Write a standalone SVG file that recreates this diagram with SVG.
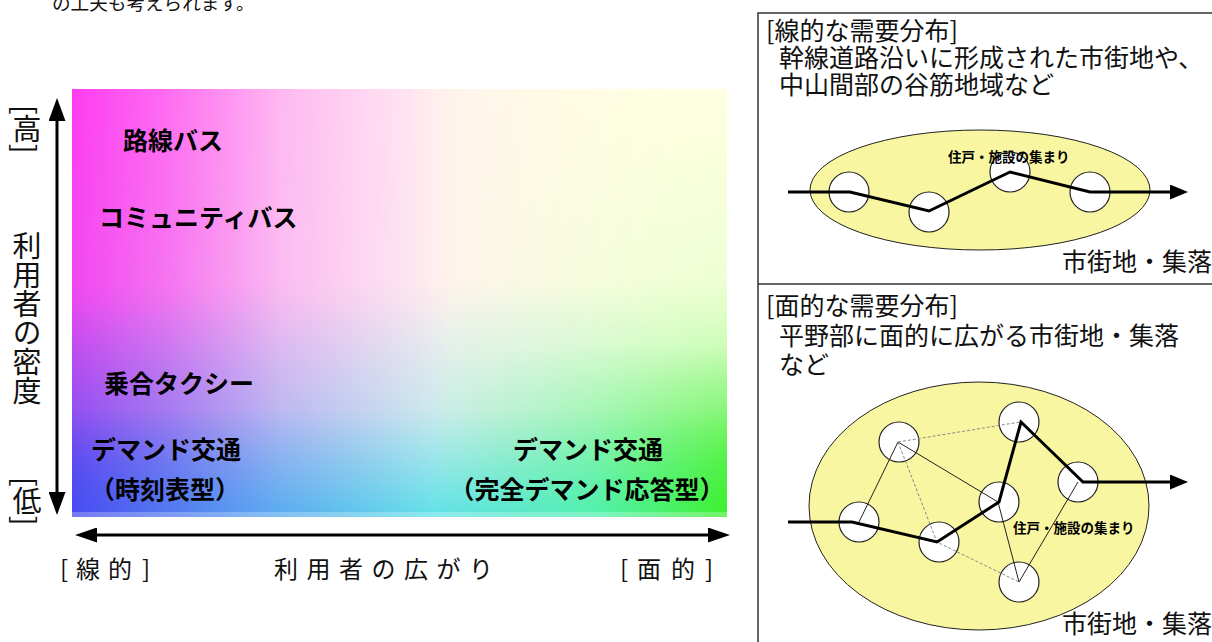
<svg xmlns="http://www.w3.org/2000/svg" width="1212" height="642" viewBox="0 0 1212 642">
<style>
.jp{font-family:"Noto Sans CJK JP","Noto Sans CJK SC",sans-serif;fill:#111}
.lab{font-family:"Noto Sans CJK JP","Noto Sans CJK SC",sans-serif;font-weight:700;font-size:25px;fill:#000}
.ax{font-size:24px}
.vt{font-size:29px;writing-mode:vertical-rl}
.pt{font-size:25px}
.sm{font-family:"Noto Sans CJK JP","Noto Sans CJK SC",sans-serif;font-weight:700;font-size:13.5px;fill:#000}
.area{fill:#f8f6a0;stroke:#222;stroke-width:1}
.house{fill:#fff;stroke:#222;stroke-width:1.2}
.thin{fill:none;stroke:#222;stroke-width:1}
.dash{fill:none;stroke:#888;stroke-width:1;stroke-dasharray:3 2}
.route{fill:none;stroke:#000;stroke-width:3}
.axis{fill:none;stroke:#000;stroke-width:3}
</style>
<defs>
<linearGradient id="gBase" x1="0" y1="0" x2="1" y2="0">
<stop offset="0" stop-color="#ffdcf2"/><stop offset="0.45" stop-color="#fff0f2"/><stop offset="1" stop-color="#fffee0"/>
</linearGradient>
<linearGradient id="gLeft" x1="0" y1="0" x2="0" y2="1">
<stop offset="0" stop-color="#ff3cf0"/><stop offset="0.5" stop-color="#f048f0"/><stop offset="0.75" stop-color="#b850f0"/><stop offset="1" stop-color="#4848f0"/>
</linearGradient>
<linearGradient id="gLeftM" x1="0" y1="0" x2="1" y2="0">
<stop offset="0" stop-color="#fff"/><stop offset="0.14" stop-color="#b8b8b8"/><stop offset="0.32" stop-color="#484848"/><stop offset="0.58" stop-color="#000"/>
</linearGradient>
<linearGradient id="gBot" x1="0" y1="0" x2="1" y2="0">
<stop offset="0" stop-color="#4a4cf0"/><stop offset="0.3" stop-color="#58a8f0"/><stop offset="0.55" stop-color="#60e0e8"/><stop offset="0.8" stop-color="#50f0b0"/><stop offset="1" stop-color="#40f030"/>
</linearGradient>
<linearGradient id="gBotM" x1="0" y1="0" x2="0" y2="1">
<stop offset="0.45" stop-color="#000"/><stop offset="0.75" stop-color="#505050"/><stop offset="1" stop-color="#fff"/>
</linearGradient>
<linearGradient id="gRight" x1="0" y1="0" x2="0" y2="1">
<stop offset="0" stop-color="#ffffe0"/><stop offset="0.6" stop-color="#e8ffd0"/><stop offset="1" stop-color="#40f040"/>
</linearGradient>
<linearGradient id="gRightM" x1="0" y1="0" x2="1" y2="0">
<stop offset="0.55" stop-color="#000"/><stop offset="1" stop-color="#fff"/>
</linearGradient>
<mask id="mLeft"><rect x="72" y="89" width="655" height="428" fill="url(#gLeftM)"/></mask>
<mask id="mBot"><rect x="72" y="89" width="655" height="428" fill="url(#gBotM)"/></mask>
<mask id="mRight"><rect x="72" y="89" width="655" height="428" fill="url(#gRightM)"/></mask>
<marker id="ahV" markerUnits="userSpaceOnUse" markerWidth="23" markerHeight="17" refX="0" refY="8.5" orient="auto-start-reverse" viewBox="0 0 23 17">
<path d="M0,0 L23,8.5 L0,17 Z" fill="#000"/>
</marker>
<marker id="ahH" markerUnits="userSpaceOnUse" markerWidth="22" markerHeight="15" refX="0" refY="7.5" orient="auto-start-reverse" viewBox="0 0 22 15">
<path d="M0,0 L22,7.5 L0,15 Z" fill="#000"/>
</marker>
<marker id="ahR" markerUnits="userSpaceOnUse" markerWidth="18" markerHeight="15" refX="0" refY="7.5" orient="auto" viewBox="0 0 18 15">
<path d="M0,0 L18,7.5 L0,15 Z" fill="#000"/>
</marker>
</defs>

<text class="jp" x="52" y="10" font-size="18.6">の工夫も考えられます。</text>

<g id="chart">
<rect x="72" y="89" width="655" height="428" fill="url(#gBase)"/>
<rect x="72" y="89" width="655" height="428" fill="url(#gRight)" mask="url(#mRight)"/>
<rect x="72" y="89" width="655" height="428" fill="url(#gLeft)" mask="url(#mLeft)"/>
<rect x="72" y="89" width="655" height="428" fill="url(#gBot)" mask="url(#mBot)"/>
<rect x="72" y="512" width="655" height="6" fill="#fff" fill-opacity="0.25"/>
</g>

<g id="labels">
<text class="lab" x="123" y="150">路線バス</text>
<text class="lab" x="99" y="227">コミュニティバス</text>
<text class="lab" x="104" y="393">乗合タクシー</text>
<text class="lab" x="91" y="459">デマンド交通</text>
<text class="lab" x="90" y="499">（時刻表型）</text>
<text class="lab" x="588" y="459" text-anchor="middle">デマンド交通</text>
<text class="lab" x="587" y="499" text-anchor="middle">（完全デマンド応答型）</text>
</g>

<g id="axes">
<line class="axis" x1="57" y1="121" x2="57" y2="492" marker-start="url(#ahV)" marker-end="url(#ahV)"/>
<line class="axis" x1="97" y1="535" x2="708" y2="535" marker-start="url(#ahH)" marker-end="url(#ahH)"/>
<text class="jp vt" x="27" y="105">[高]</text>
<text class="jp vt" x="27" y="231">利用者の密度</text>
<text class="jp vt" x="27" y="477">[低]</text>
<text class="jp ax" x="60 76 108 142" y="578">[線的]</text>
<text class="jp ax" x="274" y="578" letter-spacing="8.5">利用者の広がり</text>
<text class="jp ax" x="620 637 671 705" y="578">[面的]</text>
</g>

<g id="panel-frame">
<rect x="758" y="13" width="470" height="650" fill="none" stroke="#333" stroke-width="1.5"/>
<line x1="758" y1="284" x2="1212" y2="284" stroke="#333" stroke-width="1.5"/>
</g>

<g id="panel-linear">
<text class="jp pt" x="766" y="40">[線的な需要分布]</text>
<text class="jp pt" x="779" y="67">幹線道路沿いに形成された市街地や、</text>
<text class="jp pt" x="779" y="94">中山間部の谷筋地域など</text>
<ellipse class="area" cx="980" cy="190" rx="170" ry="60"/>
<circle class="house" cx="849" cy="192" r="20"/>
<circle class="house" cx="929" cy="212" r="20"/>
<circle class="house" cx="1010" cy="172" r="20"/>
<circle class="house" cx="1090" cy="192" r="20"/>
<text class="sm" x="948" y="162">住戸・施設の集まり</text>
<polyline class="route" points="788,192 850,192 929,211 1010,172 1090,192 1170,192" marker-end="url(#ahR)"/>
<text class="jp" x="1062" y="271" font-size="25">市街地・集落</text>
</g>

<g id="panel-area">
<text class="jp pt" x="766" y="315">[面的な需要分布]</text>
<text class="jp pt" x="779" y="345">平野部に面的に広がる市街地・集落</text>
<text class="jp pt" x="779" y="374">など</text>
<ellipse class="area" cx="979" cy="506" rx="170" ry="124"/>
<circle class="house" cx="859" cy="522" r="20"/>
<circle class="house" cx="899" cy="442" r="20"/>
<circle class="house" cx="939" cy="542" r="20"/>
<circle class="house" cx="999" cy="502" r="20"/>
<circle class="house" cx="1019" cy="422" r="20"/>
<circle class="house" cx="1078" cy="482" r="20"/>
<circle class="house" cx="1019" cy="582" r="20"/>
<g id="connectors">
<polyline class="thin" points="859,522 898,442 998,502 1019,582 1078,482"/>
<line class="dash" x1="898" y1="442" x2="1020" y2="422"/>
<polyline class="dash" points="898,442 937,542 1019,582"/>
<polyline class="route" points="788,522 852,522 937,542 999,502 1021,422 1083,482 1170,482" marker-end="url(#ahR)"/>
</g>
<text class="sm" x="1013" y="533">住戸・施設の集まり</text>
<text class="jp" x="1062" y="633" font-size="25">市街地・集落</text>
</g>
</svg>
